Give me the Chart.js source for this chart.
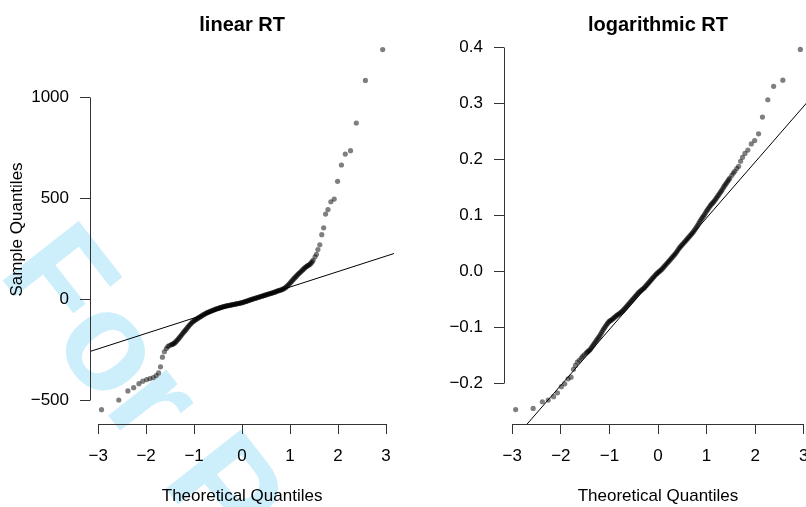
<!DOCTYPE html>
<html>
<head>
<meta charset="utf-8">
<script src="https://cdn.jsdelivr.net/npm/chart.js@4.4.0/dist/chart.umd.min.js"></script>
<style>
  html, body { margin: 0; padding: 0; background: #fff; overflow: hidden; }
  #wrap { position: relative; width: 806px; height: 507px; overflow: hidden; }
  #mark {
    position: absolute; left: -3px; top: 155px;
    font: bold 140px "Liberation Sans", Arial, sans-serif; line-height: 140px;
    color: #cdeefb; white-space: nowrap;
    transform-origin: 0 118px; transform: rotate(52deg);
  }
  #left { position: absolute; left: 0; top: 0; }
  #right { position: absolute; left: 404px; top: 0; }
</style>
</head>
<body>
<div id="wrap">
  <div id="mark">For Peer Review</div>
  <canvas id="left" width="403" height="507"></canvas>
  <canvas id="right" width="420" height="507"></canvas>
</div>
<script>
// theoretical normal quantiles (shared by both panels)
const theoretical = [
  -2.93, -2.57, -2.38, -2.26, -2.15, -2.07, -1.99, -1.92, -1.85, -1.79, -1.74, -1.70, -1.66, -1.62, -1.58, -1.55, -1.52,
  -1.48, -1.46, -1.44, -1.42, -1.40, -1.38, -1.36, -1.34, -1.32, -1.30,
  -1.28, -1.26, -1.24, -1.22, -1.20, -1.18, -1.16, -1.14, -1.12, -1.10,
  -1.08, -1.06, -1.04, -1.02, -1.00, -0.98, -0.96, -0.94, -0.92, -0.90,
  -0.88, -0.86, -0.84, -0.82, -0.80, -0.78, -0.76, -0.74, -0.72, -0.70,
  -0.68, -0.66, -0.64, -0.62, -0.60, -0.58, -0.56, -0.54, -0.52, -0.50,
  -0.48, -0.46, -0.44, -0.42, -0.40, -0.38, -0.36, -0.34, -0.32, -0.30,
  -0.28, -0.26, -0.24, -0.22, -0.20, -0.18, -0.16, -0.14, -0.12, -0.10,
  -0.08, -0.06, -0.04, -0.02, 0.00, 0.02, 0.04, 0.06, 0.08, 0.10,
  0.12, 0.14, 0.16, 0.18, 0.20, 0.22, 0.24, 0.26, 0.28, 0.30,
  0.32, 0.34, 0.36, 0.38, 0.40, 0.42, 0.44, 0.46, 0.48, 0.50,
  0.52, 0.54, 0.56, 0.58, 0.60, 0.62, 0.64, 0.66, 0.68, 0.70,
  0.72, 0.74, 0.76, 0.78, 0.80, 0.82, 0.84, 0.86, 0.88, 0.90,
  0.92, 0.94, 0.96, 0.98, 1.00, 1.02, 1.04, 1.06, 1.08, 1.10,
  1.12, 1.14, 1.16, 1.18, 1.20, 1.22, 1.24, 1.26, 1.28, 1.30,
  1.32, 1.34, 1.36, 1.38, 1.40, 1.42, 1.44, 1.46, 1.48,
  1.52, 1.55, 1.58, 1.62, 1.66, 1.70, 1.74, 1.79, 1.85, 1.92, 1.99, 2.07, 2.15, 2.26, 2.38, 2.57, 2.93
];

// sample quantiles, linear RT
const linearRT = [
  -545, -497, -452, -436, -416, -404, -396, -391, -386, -376, -363, -333, -285, -258, -242, -233, -228,
  -224, -222, -220, -217, -213, -208, -203, -198, -192, -186,
  -180, -174, -168, -162, -156, -151, -145, -139, -133, -127,
  -122, -117, -112, -108, -104, -101, -98, -95, -92, -89,
  -86, -83, -80, -77, -74, -71, -69, -66, -64, -62,
  -60, -58, -56, -54, -52, -50, -48, -46, -45, -43,
  -42, -40, -39, -37, -36, -34, -33, -32, -31, -30,
  -29, -28, -27, -26, -25, -24, -23, -22, -21, -20,
  -19, -18, -17, -16, -15, -13, -12, -10, -9, -7,
  -6, -4, -2, 0, 1, 3, 4, 6, 7, 9,
  10, 12, 13, 15, 16, 18, 19, 21, 22, 24,
  25, 27, 28, 30, 31, 33, 34, 36, 37, 39,
  41, 43, 44, 46, 47, 49, 51, 53, 56, 59,
  63, 67, 72, 77, 82, 88, 93, 99, 104, 109,
  114, 119, 124, 129, 133, 138, 142, 147, 151, 156,
  160, 164, 167, 170, 173, 177, 182, 188, 195,
  212, 225, 248, 272, 322, 356, 424, 446, 485, 498, 586, 667, 721, 738, 875, 1086, 1239
];

// sample quantiles, logarithmic RT
const logRT = [
  -0.247, -0.245, -0.233, -0.230, -0.224, -0.217, -0.206, -0.201, -0.192, -0.189, -0.175, -0.168, -0.162, -0.159, -0.155, -0.152, -0.149,
  -0.146, -0.1445, -0.143, -0.1415, -0.140, -0.1375, -0.135, -0.1325, -0.130, -0.1275,
  -0.125, -0.1225, -0.120, -0.1175, -0.115, -0.112, -0.109, -0.106, -0.103, -0.1005,
  -0.098, -0.0955, -0.093, -0.091, -0.089, -0.088, -0.087, -0.0855, -0.084, -0.0825,
  -0.081, -0.0795, -0.078, -0.077, -0.076, -0.0745, -0.073, -0.0715, -0.070, -0.068,
  -0.066, -0.064, -0.062, -0.060, -0.058, -0.056, -0.054, -0.052, -0.050, -0.048,
  -0.046, -0.044, -0.042, -0.040, -0.038, -0.0365, -0.035, -0.0335, -0.032, -0.0305,
  -0.029, -0.027, -0.025, -0.023, -0.021, -0.019, -0.017, -0.015, -0.013, -0.011,
  -0.009, -0.007, -0.005, -0.0035, -0.002, -0.0005, 0.001, 0.0025, 0.004, 0.006,
  0.008, 0.010, 0.012, 0.014, 0.016, 0.018, 0.020, 0.022, 0.024, 0.026,
  0.028, 0.030, 0.032, 0.0345, 0.037, 0.0395, 0.042, 0.044, 0.046, 0.048,
  0.050, 0.052, 0.054, 0.056, 0.058, 0.060, 0.062, 0.064, 0.066, 0.068,
  0.070, 0.0725, 0.075, 0.0775, 0.080, 0.083, 0.086, 0.089, 0.092, 0.0945,
  0.097, 0.0995, 0.102, 0.105, 0.108, 0.1105, 0.113, 0.1155, 0.118, 0.120,
  0.122, 0.124, 0.126, 0.1285, 0.131, 0.1335, 0.136, 0.1385, 0.141, 0.1435,
  0.146, 0.149, 0.152, 0.1545, 0.157, 0.1595, 0.162, 0.1645, 0.167,
  0.172, 0.176, 0.179, 0.184, 0.188, 0.197, 0.204, 0.211, 0.217, 0.228, 0.234, 0.246, 0.276, 0.307, 0.331, 0.342, 0.397
];

// qqline: intercept, slope
const linearLine = [-14, 76.6];
const logLine = [-0.004, 0.0998];

const xRange = [-3.17, 3.17];
const linearRange = [-616, 1311];
const logRange = [-0.2728, 0.4228];

const xTicks = [-3, -2, -1, 0, 1, 2, 3];
const xTickLabels = ['\u22123', '\u22122', '\u22121', '0', '1', '2', '3'];
const linearTicks = [-500, 0, 500, 1000];
const linearTickLabels = ['\u2212500', '0', '500', '1000'];
const logTicks = [-0.2, -0.1, 0, 0.1, 0.2, 0.3, 0.4];
const logTickLabels = ['\u22120.2', '\u22120.1', '0.0', '0.1', '0.2', '0.3', '0.4'];

Chart.defaults.font.family = '"Liberation Sans", Arial, Helvetica, sans-serif';
Chart.defaults.font.size = 17;
Chart.defaults.color = '#000';

const align = v => Math.round(v - 0.5) + 0.5;

// R-style axis lines that only span first..last tick
const axisLines = {
  id: 'axisLines',
  afterDraw(chart) {
    const {ctx, chartArea} = chart;
    const xs = chart.scales.x, ys = chart.scales.y;
    ctx.save();
    ctx.strokeStyle = '#333';
    ctx.lineWidth = 1;
    ctx.beginPath();
    const by = align(chartArea.bottom);
    ctx.moveTo(align(xs.getPixelForValue(xs.ticks[0].value)), by);
    ctx.lineTo(align(xs.getPixelForValue(xs.ticks[xs.ticks.length - 1].value)), by);
    const lx = align(chartArea.left);
    ctx.moveTo(lx, align(ys.getPixelForValue(ys.ticks[0].value)));
    ctx.lineTo(lx, align(ys.getPixelForValue(ys.ticks[ys.ticks.length - 1].value)));
    ctx.stroke();
    ctx.restore();
  }
};

function qqChart(id, title, values, line, yRange, yTicks, yLabels, yTitle, yWidth, padRight) {
  const points = theoretical.map((x, i) => ({x: x, y: values[i]}));
  const ends = xRange.map(x => ({x: x, y: line[0] + line[1] * x}));
  return new Chart(document.getElementById(id), {
    type: 'scatter',
    data: {
      datasets: [
        {type: 'line', data: ends, borderColor: '#000', borderWidth: 1, pointRadius: 0, order: 0},
        {data: points, pointRadius: 2.6, pointBackgroundColor: 'rgba(0,0,0,0.5)', pointBorderWidth: 0, order: 1}
      ]
    },
    options: {
      responsive: false,
      animation: false,
      events: [],
      layout: {padding: {left: 0, right: padRight, top: 0, bottom: 0}},
      plugins: {
        legend: {display: false},
        tooltip: {enabled: false},
        title: {
          display: true, text: title, fullSize: false, color: '#000',
          font: {size: 20, weight: 'bold', lineHeight: 1},
          padding: {top: 15, bottom: 0}
        }
      },
      scales: {
        x: {
          type: 'linear', min: xRange[0], max: xRange[1],
          afterBuildTicks: s => { s.ticks = xTicks.map(v => ({value: v})); },
          afterFit: s => { s.height = 83; },
          ticks: {callback: (v, i) => xTickLabels[i], padding: 12, autoSkip: false, maxRotation: 0},
          grid: {drawOnChartArea: false, drawTicks: true, tickLength: 10, color: '#333'},
          border: {display: false},
          title: {display: true, text: 'Theoretical Quantiles', padding: {top: 0, bottom: 0}}
        },
        y: {
          type: 'linear', min: yRange[0], max: yRange[1],
          afterBuildTicks: s => { s.ticks = yTicks.map(v => ({value: v})); },
          afterFit: s => { s.width = yWidth; },
          ticks: {callback: (v, i) => yLabels[i], padding: 11, autoSkip: false},
          grid: {drawOnChartArea: false, drawTicks: true, tickLength: 10, color: '#333'},
          border: {display: false},
          title: {display: !!yTitle, text: yTitle, padding: {top: 7, bottom: 0}}
        }
      }
    },
    plugins: [axisLines]
  });
}

qqChart('left', 'linear RT', linearRT, linearLine, linearRange, linearTicks, linearTickLabels, 'Sample Quantiles', 90, 5);
qqChart('right', 'logarithmic RT', logRT, logLine, logRange, logTicks, logTickLabels, '', 100, 12);
</script>
</body>
</html>
